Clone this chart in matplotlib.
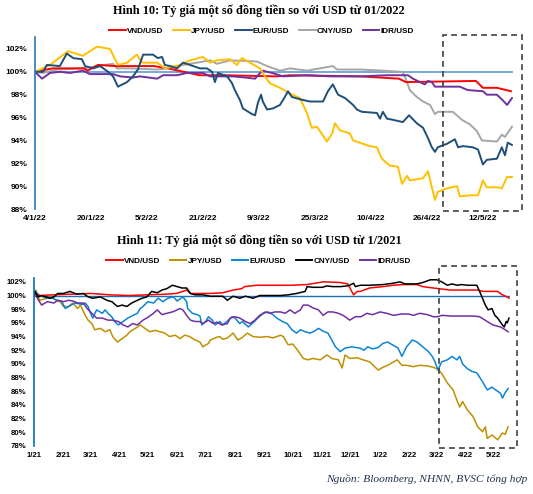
import matplotlib
matplotlib.use("Agg")
import matplotlib.pyplot as plt
import matplotlib.patches as mpatches
from matplotlib.lines import Line2D
import pandas as pd

# ---------------- Chart 1 data (days since 4/1/2022, % of start) ----------------
start1 = "2022-01-04"
vnd1_day = [0, 5, 14, 15, 18, 23, 34, 38, 44, 47, 54, 69, 73, 93, 104, 106, 126, 128, 132, 136]
vnd1_val = [100.0, 100.3, 100.3, 100.1, 100.6, 100.5, 100.5, 100.3, 99.9, 99.7, 99.7, 99.6, 99.7, 99.6, 99.4, 99.1, 99.2, 98.6, 98.6, 98.3]

jpy1_day = [0, 4.3, 9.4, 13.7, 17.7, 21.4, 23.7, 26.3, 29.1, 30.6, 34.9, 37.1, 41.4, 44.3, 48, 50, 52, 55.7, 57.7, 59.1,
            61.4, 64.3, 65.7, 67.1, 70, 72.9, 75.7, 77.7, 79.1, 80.6, 83.4, 84.9, 85.7, 87.1, 90, 90.9, 95.7, 97.7, 99.1,
            101.4, 103.7, 104.9, 106.3, 107.1, 110.9, 112.3, 113.4, 114.3, 115.1, 117.7, 120.6, 121.4, 124.3, 126.6, 128,
            129.1, 132.3, 133.4, 134.9, 136.3]
jpy1_val = [100.0, 100.6, 101.8, 101.4, 102.2, 102.0, 100.6, 100.8, 101.5, 100.8, 100.8, 100.3, 100.6, 101.0, 101.3, 100.8,
            101.0, 101.1, 100.6, 101.2, 100.8, 100.3, 99.6, 99.0, 98.6, 98.1, 97.7, 96.4, 95.1, 95.2, 93.9, 94.6, 95.5, 94.9,
            94.6, 94.0, 93.5, 93.4, 92.4, 91.8, 91.7, 90.2, 90.9, 90.5, 90.7, 91.3, 89.9, 88.8, 89.5, 89.8, 90.0, 89.1, 89.2,
            89.2, 90.5, 89.9, 89.9, 89.8, 90.8, 90.8]

eur1_day = [0, 2.3, 3.4, 7.1, 9.1, 10.9, 13.4, 14.3, 16.6, 18.6, 20.9, 22.3, 23.7, 26.3, 28, 29.4, 30.9, 33.7, 35.1, 36.3,
            37.1, 38.6, 40.6, 42.3, 44.3, 47.1, 49.1, 50.6, 51.4, 52.3, 54.9, 56.3, 57.1, 58.6, 59.4, 62, 62.9, 63.7, 64.6,
            65.1, 66.3, 68, 70, 71.4, 72.3, 73.4, 75.7, 77.1, 78.6, 82.3, 83.7, 85.1, 86.6, 88.6, 90.9, 92, 93.4, 97.7,
            98.6, 99.4, 100.6, 102.3, 105.1, 106.9, 109.1, 110.9, 112.3, 113.4, 114.3, 115.1, 117.7, 120, 120.9, 122.3,
            125.1, 126.6, 128, 129.1, 132, 133.4, 134.3, 135.1, 136.3]
eur1_val = [100.0, 100.0, 100.6, 100.5, 101.6, 101.2, 101.1, 100.5, 100.3, 100.5, 100.0, 99.6, 98.7, 99.1, 99.6, 100.2,
            101.5, 101.5, 101.2, 101.3, 100.6, 100.5, 100.3, 100.8, 100.6, 100.3, 100.3, 100.0, 99.1, 99.9, 99.6, 99.0,
            98.4, 97.5, 96.8, 96.3, 96.2, 97.3, 98.0, 97.4, 96.7, 96.8, 97.1, 97.8, 98.3, 97.8, 97.6, 97.5, 97.4, 97.4,
            98.3, 98.9, 98.0, 97.7, 97.1, 96.7, 96.5, 96.4, 95.9, 96.5, 95.9, 95.8, 95.6, 96.2, 95.5, 95.1, 94.2, 93.4,
            93.0, 93.4, 93.7, 94.1, 93.4, 93.5, 93.4, 93.2, 91.9, 92.3, 92.4, 93.4, 92.7, 93.8, 93.6]

cny1_day = [0, 2.3, 6.3, 13.7, 17.7, 22.3, 23.4, 27.1, 34.9, 37.7, 42.3, 46.3, 50, 52, 55.7, 63.4, 66.3, 70, 72.9, 77.7,
            85.1, 86.3, 92.9, 99.4, 104.9, 105.7, 107.1, 109.1, 110.9, 112.9, 114.3, 115.1, 119.4, 120.9, 122, 124.3,
            126.3, 127.7, 132, 133.4, 134.3, 136.3]
cny1_val = [100.0, 99.9, 100.2, 100.3, 100.5, 100.7, 100.3, 100.3, 100.2, 100.3, 100.6, 100.8, 101.0, 100.7, 101.0, 100.9,
            100.5, 100.1, 100.3, 100.1, 100.5, 100.2, 100.2, 100.1, 100.0, 99.6, 98.4, 97.8, 97.4, 97.1, 96.3, 96.5, 96.5,
            96.1, 95.8, 95.4, 94.8, 94.0, 93.9, 94.5, 94.3, 95.2]

idr1_day = [0, 2, 4.3, 7.1, 10, 13.7, 15.7, 22.3, 24.3, 28, 30, 34.9, 36.6, 40.6, 43.4, 46.3, 48, 50, 56.6, 60, 62.9, 63.7,
            65.1, 67.7, 70.9, 77.7, 84.3, 92.9, 100.6, 106.6, 108, 110, 111.4, 112.3, 113.4, 114.3, 121.4, 123.7, 128,
            129.1, 132, 133.7, 134.9, 136.3]
idr1_val = [100.0, 99.4, 99.9, 100.0, 99.9, 100.1, 99.8, 99.8, 99.6, 99.5, 99.6, 99.4, 99.7, 99.7, 99.9, 99.9, 99.9, 99.6,
            99.6, 99.5, 99.4, 99.7, 100.1, 99.9, 99.6, 99.7, 99.6, 99.6, 99.7, 99.7, 99.4, 99.1, 98.9, 99.2, 99.1, 98.7,
            98.7, 98.4, 98.3, 98.0, 98.0, 97.5, 97.1, 97.7]

ticks1 = ["4/1/22", "20/1/22", "5/2/22", "21/2/22", "9/3/22", "25/3/22", "10/4/22", "26/4/22", "12/5/22"]
tick1_day = [0, 16, 32, 48, 64, 80, 96, 112, 128]

# ---------------- Chart 2 data (days since 1/1/2021, % of start) ----------------
start2 = "2021-01-01"
vnd2_day = [0, 1, 6, 20, 40, 60, 80, 100, 120, 140, 150, 157, 161, 165, 185, 199, 210, 219, 222, 235, 260, 270, 288, 305,
            323, 331, 334, 337, 341, 344, 354, 368, 379, 389, 404, 410, 421, 439, 457, 467, 474, 489, 494, 499, 501]
vnd2_val = [100.0, 100.3, 100.0, 100.1, 100.2, 100.3, 100.1, 100.0, 100.1, 100.2, 100.3, 100.6, 100.8, 100.3, 100.3,
            100.4, 100.8, 101.0, 101.3, 101.5, 101.5, 101.5, 101.6, 102.0, 101.9, 101.7, 100.9, 100.1, 100.6, 100.6, 101.1,
            101.3, 101.5, 101.6, 101.6, 101.3, 101.1, 100.8, 100.8, 100.8, 100.6, 100.6, 100.1, 99.8, 99.6]

jpy2_day = [0, 2, 6, 14, 17, 24, 28, 31, 36, 41, 46, 49, 54, 57, 61, 64, 70, 75, 80, 83, 88, 93, 98, 101, 107, 112, 117,
            122, 128, 133, 138, 143, 149, 154, 159, 164, 170, 175, 178, 184, 186, 193, 196, 199, 204, 210, 215, 219, 225,
            231, 238, 246, 252, 260, 263, 268, 273, 278, 284, 289, 294, 302, 309, 314, 321, 325, 328, 333, 341, 347, 354,
            363, 368, 373, 383, 388, 393, 400, 407, 415, 421, 425, 430, 436, 442, 446, 449, 452, 457, 463, 468, 473, 476,
            478, 483, 489, 494, 497, 500]
jpy2_val = [100.0, 100.8, 99.3, 99.6, 99.8, 99.3, 99.0, 98.4, 98.4, 98.9, 98.1, 98.6, 97.1, 96.4, 95.9, 95.0, 95.2, 94.7,
            95.0, 94.0, 93.2, 93.7, 94.2, 94.7, 95.2, 95.7, 95.2, 94.7, 94.9, 94.7, 94.5, 94.0, 94.2, 93.7, 94.2, 94.0,
            93.5, 93.2, 92.5, 93.0, 93.5, 93.9, 94.0, 93.6, 93.8, 94.5, 93.5, 93.8, 94.5, 94.0, 93.9, 94.0, 93.8, 94.2,
            94.0, 92.8, 92.9, 92.0, 90.8, 90.6, 90.8, 90.6, 91.3, 90.8, 90.6, 89.4, 91.3, 90.8, 90.9, 90.6, 90.3, 89.1,
            89.5, 89.8, 90.6, 89.8, 89.8, 89.6, 89.8, 89.7, 89.5, 89.3, 88.6, 87.2, 86.2, 84.7, 83.7, 84.5, 83.3, 82.3,
            80.8, 80.1, 80.8, 79.1, 79.6, 78.9, 79.9, 79.7, 80.8]

eur2_day = [0, 1, 6, 14, 20, 24, 29, 33, 38, 43, 51, 54, 57, 59, 62, 66, 72, 75, 78, 82, 85, 89, 94, 99, 103, 109, 112,
            115, 120, 126, 131, 136, 141, 147, 151, 157, 161, 162, 167, 172, 175, 177, 181, 184, 188, 191, 196, 199, 205,
            209, 212, 217, 220, 226, 231, 236, 242, 247, 252, 256, 262, 267, 272, 277, 281, 286, 291, 296, 300, 305, 310,
            314, 318, 323, 328, 335, 344, 348, 352, 357, 363, 368, 373, 378, 384, 388, 393, 399, 404, 410, 416, 420, 423,
            426, 430, 436, 441, 446, 449, 452, 457, 462, 467, 473, 478, 483, 487, 492, 494, 497, 500]
eur2_val = [100.0, 100.6, 100.0, 99.6, 99.6, 99.3, 99.2, 98.1, 98.5, 98.9, 98.7, 98.9, 98.4, 97.6, 96.7, 97.9, 97.4, 97.9,
            97.4, 96.9, 96.2, 95.7, 96.2, 96.7, 97.0, 97.4, 98.1, 98.4, 99.1, 98.9, 99.6, 99.1, 99.6, 99.8, 99.2, 99.8,
            99.1, 98.1, 97.4, 97.2, 97.0, 95.7, 96.2, 96.9, 96.4, 95.7, 96.2, 95.7, 96.4, 96.9, 96.7, 95.9, 96.2, 95.4,
            96.0, 96.7, 97.4, 97.6, 97.2, 96.7, 96.2, 95.9, 95.0, 94.5, 95.0, 94.7, 94.5, 94.8, 95.2, 94.8, 94.5, 93.5,
            92.5, 91.8, 92.3, 92.5, 92.3, 92.0, 92.5, 92.2, 92.4, 93.0, 93.2, 92.8, 92.3, 91.1, 92.5, 93.5, 93.2, 92.5,
            91.8, 91.1, 90.3, 89.1, 90.3, 90.6, 91.1, 90.6, 91.1, 90.0, 89.3, 88.9, 88.7, 87.4, 86.2, 86.6, 86.2, 85.7,
            85.0, 85.8, 86.4]

cny2_day = [0, 1, 4, 8, 17, 21, 25, 31, 38, 45, 52, 57, 62, 70, 77, 82, 88, 93, 98, 103, 109, 114, 119, 124, 130, 135,
            140, 146, 151, 156, 161, 165, 170, 178, 186, 193, 199, 204, 210, 217, 223, 231, 238, 246, 252, 260, 268, 277,
            286, 288, 294, 304, 309, 315, 323, 330, 333, 337, 339, 344, 354, 368, 379, 386, 391, 404, 410, 418, 425, 430,
            436, 441, 446, 451, 457, 467, 470, 473, 476, 479, 483, 486, 489, 494, 496, 498, 499, 501]
cny2_val = [100.0, 100.6, 99.8, 100.0, 99.6, 99.8, 100.3, 100.3, 100.6, 100.2, 100.3, 99.8, 99.6, 99.8, 99.3, 99.1, 98.4,
            98.6, 98.4, 98.9, 99.3, 99.6, 99.8, 100.6, 100.4, 100.8, 101.0, 101.5, 101.3, 101.1, 101.1, 100.3, 100.1,
            100.1, 99.9, 99.9, 99.9, 99.3, 99.9, 99.6, 99.9, 99.6, 100.0, 100.0, 100.0, 100.0, 100.1, 100.3, 100.6, 101.3,
            101.2, 101.2, 101.4, 101.3, 101.3, 101.4, 101.5, 101.8, 101.3, 101.5, 101.5, 101.6, 101.8, 102.0, 101.7,
            101.7, 101.9, 102.3, 102.3, 102.0, 101.5, 101.7, 101.5, 101.6, 101.5, 101.5, 100.6, 99.6, 98.6, 97.9, 98.1,
            97.1, 96.7, 95.7, 95.4, 96.2, 96.0, 96.7]

idr2_day = [0, 1, 4, 8, 14, 21, 25, 31, 36, 41, 46, 52, 56, 61, 66, 72, 78, 83, 89, 94, 99, 104, 109, 115, 120, 126, 130,
            135, 140, 146, 151, 154, 157, 161, 165, 170, 175, 178, 184, 189, 193, 198, 204, 207, 212, 217, 223, 228, 233,
            238, 244, 249, 254, 260, 265, 270, 275, 281, 284, 289, 294, 300, 305, 310, 315, 321, 326, 333, 339, 345, 351,
            357, 365, 372, 379, 388, 395, 400, 407, 415, 421, 426, 430, 440, 449, 463, 470, 478, 484, 492, 497, 500]
idr2_val = [100.0, 100.3, 99.5, 98.6, 99.1, 98.9, 99.3, 99.1, 99.3, 99.2, 98.9, 98.9, 98.1, 97.4, 96.7, 96.7, 96.4, 96.4,
            96.2, 95.7, 95.4, 95.9, 95.7, 96.4, 96.8, 97.4, 97.9, 97.2, 97.4, 97.6, 97.9, 98.1, 97.9, 97.1, 96.4, 96.2,
            96.2, 95.9, 96.4, 95.9, 96.1, 95.7, 95.9, 96.7, 96.9, 96.7, 96.2, 95.9, 96.4, 97.1, 97.6, 97.4, 97.6, 97.6,
            97.4, 97.9, 97.4, 97.9, 98.6, 98.6, 98.2, 97.9, 97.1, 97.6, 97.6, 97.4, 97.1, 96.4, 96.9, 96.9, 97.4, 97.2,
            97.6, 97.4, 97.1, 97.3, 97.3, 97.1, 97.4, 97.2, 96.9, 96.9, 97.1, 97.0, 97.0, 97.0, 96.9, 96.2, 95.7, 95.4,
            95.0, 94.7]

ticks2 = ["1/21", "2/21", "3/21", "4/21", "5/21", "6/21", "7/21", "8/21", "9/21", "10/21", "11/21", "12/21",
          "1/22", "2/22", "3/22", "4/22", "5/22"]
tick2_month = pd.date_range("2021-01-01", periods=17, freq="MS")

series_names = ["VND/USD", "JPY/USD", "EUR/USD", "CNY/USD", "IDR/USD"]


def to_dates(start, days):
    return pd.Timestamp(start) + pd.to_timedelta(days, unit="D")


# ---------------- Figure ----------------
fig = plt.figure(figsize=(5.33, 4.94), dpi=100)
fig.patch.set_facecolor("white")

sans = ["Liberation Sans", "DejaVu Sans"]
serif = ["Liberation Serif", "DejaVu Serif"]

# ---- Chart 1
ax1 = fig.add_axes([0.0657, 0.5769, 0.8968, 0.3472])
colors1 = ["#FF0000", "#FFC000", "#1F4E79", "#A6A6A6", "#7030A0"]
data1 = [(vnd1_day, vnd1_val), (jpy1_day, jpy1_val), (eur1_day, eur1_val), (cny1_day, cny1_val), (idr1_day, idr1_val)]
ax1.axhline(100, color="#5B9BD5", lw=1.2, zorder=1)
draw_order1 = [3, 0, 4, 1, 2]
for i in draw_order1:
    d, v = data1[i]
    ax1.plot(to_dates(start1, d), v, color=colors1[i], lw=1.4, zorder=2)
ax1.set_xlim(pd.Timestamp(start1), pd.Timestamp(start1) + pd.Timedelta(days=136.6))
ax1.set_ylim(88, 103)
ax1.set_yticks(range(88, 103, 2))
ax1.set_yticklabels([f"{t}%" for t in range(88, 103, 2)])
ax1.set_xticks(to_dates(start1, tick1_day))
ax1.set_xticklabels(ticks1)

# ---- Chart 2
ax2 = fig.add_axes([0.0638, 0.0972, 0.893, 0.3392])
colors2 = ["#FF0000", "#BF9000", "#0B84D6", "#000000", "#7030A0"]
data2 = [(vnd2_day, vnd2_val), (jpy2_day, jpy2_val), (eur2_day, eur2_val), (cny2_day, cny2_val), (idr2_day, idr2_val)]
ax2.axhline(100, color="#1F6FB8", lw=1.0, zorder=1)
for i in [1, 2, 4, 0, 3]:
    d, v = data2[i]
    ax2.plot(to_dates(start2, d), v, color=colors2[i], lw=1.1, zorder=2)
ax2.set_xlim(pd.Timestamp(start2), pd.Timestamp(start2) + pd.Timedelta(days=502))
ax2.set_ylim(78, 102.5)
ax2.set_yticks(range(78, 103, 2))
ax2.set_yticklabels([f"{t}%" for t in range(78, 103, 2)])
ax2.set_xticks(tick2_month)
ax2.set_xticklabels(ticks2)

for ax, spine_col, fs in [(ax1, "#2E75B6", 6.0), (ax2, "#0070C0", 5.6)]:
    for s in ["top", "right", "bottom"]:
        ax.spines[s].set_visible(False)
    ax.spines["left"].set_color(spine_col)
    ax.spines["left"].set_linewidth(1.2)
    ax.tick_params(axis="both", length=0, labelsize=fs)
    ax.tick_params(axis="y", pad=5.5)
    ax.tick_params(axis="x", pad=4.5)
    for lab in ax.get_xticklabels() + ax.get_yticklabels():
        lab.set_fontfamily(sans)
        lab.set_fontweight("bold")
        lab.set_color("#000000")
    ax.set_facecolor("white")

# ---- Titles
fig.text(0.486, 0.978, "Hình 10: Tỷ giá một số đồng tiền so với USD từ 01/2022", ha="center", va="center",
         fontsize=8.8, fontweight="bold", family=serif)
fig.text(0.486, 0.512, "Hình 11: Tỷ giá một số đồng tiền so với USD từ 1/2021", ha="center", va="center",
         fontsize=8.8, fontweight="bold", family=serif)

# ---- Legends
for cols, ycen, xcen in [(colors1, 0.937, 0.491), (colors2, 0.4717, 0.485)]:
    handles = [Line2D([], [], color=c, lw=1.4) for c in cols]
    leg = fig.legend(handles, series_names, loc="center", bbox_to_anchor=(xcen, ycen), ncol=5, frameon=False,
                     handlelength=2.0, handletextpad=0.15, columnspacing=1.2,
                     prop={"family": sans, "weight": "bold", "size": 5.9})

# ---- Dashed highlight boxes
fig.patches.append(mpatches.Rectangle((0.831, 0.573), 0.148, 0.356, transform=fig.transFigure, fill=False,
                                      edgecolor="#404040", lw=1.2, linestyle=(0, (3.5, 2.5))))
fig.patches.append(mpatches.Rectangle((0.8236, 0.0931), 0.1463, 0.3684, transform=fig.transFigure, fill=False,
                                      edgecolor="#404040", lw=1.2, linestyle=(0, (3.5, 2.5))))

# ---- Source
fig.text(0.989, 0.031, "Nguồn: Bloomberg, NHNN, BVSC tổng hợp", ha="right", va="center", fontsize=8.2,
         style="italic", family=serif, color="#1F2F4F")

fig.savefig("out.png", dpi=100, facecolor="white")
